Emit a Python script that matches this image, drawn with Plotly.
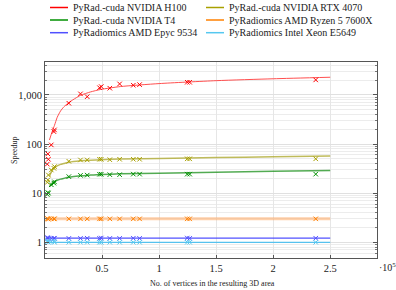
import plotly.graph_objects as go

# Shared mesh sizes (number of vertices)
vertices = [2000, 2500, 3000, 5500, 7800, 8300, 20900, 31100, 37000, 47800, 49300,
            56800, 65400, 77400, 82900, 124700, 126800, 237300]

h100 = [39, 63, 49, 96, 179, 194, 677, 1050, 920, 1400, 1475, 1370, 1675, 1575, 1620, 1810, 1810, 2020]
rtx4070 = [16.6, 18.6, 23.4, 29.6, 32, 34.7, 44.5, 47.4, 47.4, 49, 49, 48, 49, 49, 49, 50, 50, 50]
t4 = [9.4, 10.3, 10, 14.8, 16, 17, 21.7, 23, 23.3, 24.3, 24.3, 23.8, 23.8, 24.4, 24.4, 24.4, 24.4, 24.4]
ryzen = [3.05, 3.0, 2.95, 3.0, 3.0, 3.0, 3.0, 3.0, 3.0, 3.0, 3.0, 3.0, 3.0, 3.0, 3.0, 3.0, 3.0, 3.0]
epyc = [1.25, 1.2, 1.22, 1.2, 1.2, 1.21, 1.2, 1.2, 1.21, 1.2, 1.22, 1.2, 1.2, 1.21, 1.2, 1.22, 1.2, 1.21]
xeon = [1.03, 1.07, 1.0, 1.03, 1.05, 1.0, 1.0, 1.0, 1.0, 1.0, 1.0, 1.0, 1.0, 1.0, 1.0, 1.0, 1.0, 1.0]

# Fitted trend curves
fit_x = [3900, 6300, 8300, 10700, 13600, 16500, 20900, 31100, 39900, 48700, 66200,
         100000, 150000, 200000, 250000]
fit_h100 = [121, 180, 240, 350, 470, 570, 700, 980, 1150, 1290, 1480, 1700, 1950, 2130, 2290]
fit_rtx4070 = [22, 29, 33, 36, 38.5, 40, 42.5, 45.5, 47, 48, 49.5, 51, 53, 55, 57]
fit_t4 = [13.5, 16, 17.3, 18.3, 19.3, 20, 21, 22.5, 23.3, 24, 24.7, 25.5, 26.8, 28, 29]
flat_x = [500, 250000]
fit_ryzen = [3.0, 3.0]
fit_epyc = [1.21, 1.21]
fit_xeon = [1.0, 1.0]

x_tickvals = [50000, 100000, 150000, 200000, 250000]
x_ticktext = ["0.5", "1", "1.5", "2", "2.5"]
y_tickvals = [1, 10, 100, 1000]
y_ticktext = ["1", "10", "100", "1,000"]

FONT = "Liberation Serif"

series = [
    ("PyRad.-cuda NVIDIA H100", "#ff0000", "rgba(255,60,60,0.9)", 1.0, fit_x, fit_h100, h100),
    ("PyRad.-cuda NVIDIA RTX 4070", "#a8a000", "rgba(175,170,50,0.8)", 1.5, fit_x, fit_rtx4070, rtx4070),
    ("PyRad.-cuda NVIDIA T4", "#009000", "rgba(40,150,40,0.8)", 1.5, fit_x, fit_t4, t4),
    ("PyRadiomics AMD Ryzen 5 7600X", "#ff8000", "rgba(255,170,100,0.55)", 3.0, flat_x, fit_ryzen, ryzen),
    ("PyRadiomics AMD Epyc 9534", "#5050ff", "rgba(50,50,255,0.85)", 1.3, flat_x, fit_epyc, epyc),
    ("PyRadiomics Intel Xeon E5649", "#55c8f0", "rgba(70,190,240,0.9)", 1.3, flat_x, fit_xeon, xeon),
]

W, H = 396, 290
ML, MR, MT, MB = 45, 19, 62, 32
PW, PH = W - ML - MR, H - MT - MB


def px_to_paper(px, py):
    return (px - ML) / PW, (H - MB - py) / PH


fig = go.Figure()
for name, lcol, pcol, w, fx, fy, my in series:
    fig.add_trace(go.Scatter(x=fx, y=fy, mode="lines", line=dict(color=pcol, width=w, shape="spline", smoothing=0.6),
                             name=name, showlegend=False, hoverinfo="skip"))
    fig.add_trace(go.Scatter(x=vertices, y=my, mode="markers", showlegend=False, name=name,
                             marker=dict(symbol="x-thin", size=4.5, color=lcol, line=dict(width=1, color=lcol))))

# Legend (two columns, drawn as shapes + text in paper coordinates)
col_x = [50, 206]
row_y = [7.5, 20, 32.7]
for i, (name, lcol, *_rest) in enumerate(series):
    cx = col_x[i % 2]
    ry = row_y[i // 2]
    x0, y0 = px_to_paper(cx, ry)
    x1, _ = px_to_paper(cx + 18, ry)
    xt, _ = px_to_paper(cx + 21, ry)
    fig.add_shape(type="line", xref="paper", yref="paper", x0=x0, x1=x1, y0=y0, y1=y0,
                  line=dict(color=lcol, width=1.5))
    fig.add_annotation(x=xt, y=y0, xref="paper", yref="paper", xanchor="left", yanchor="middle",
                       text=name, showarrow=False, font=dict(size=10, family=FONT, color="#222"))

fig.update_layout(
    width=W, height=H,
    margin=dict(l=ML, r=MR, t=MT, b=MB, autoexpand=False),
    paper_bgcolor="white", plot_bgcolor="white",
    font=dict(family=FONT, size=10, color="#222"),
    showlegend=False,
)
fig.update_xaxes(range=[0, 291000], tickvals=x_tickvals, ticktext=x_ticktext, automargin=False,
                 showgrid=True, gridcolor="#e6e6e6", gridwidth=1, zeroline=False,
                 showline=True, linecolor="#555", linewidth=1, mirror=True,
                 ticks="inside", ticklen=3, tickcolor="#555",
                 tickfont=dict(size=10.5, family=FONT))
fig.update_yaxes(type="log", range=[-0.32, 3.67], tickvals=y_tickvals, ticktext=y_ticktext, automargin=False,
                 showgrid=True, gridcolor="#e0e0e0", gridwidth=1, zeroline=False,
                 showline=True, linecolor="#555", linewidth=1, mirror="ticks",
                 ticks="inside", ticklen=4, tickcolor="#555",
                 minor=dict(ticks="inside", ticklen=2, tickcolor="#777", showgrid=True, gridcolor="#ececec",
                            tickvals=[v * m for v in [0.1, 1, 10, 100, 1000] for m in range(2, 10)]),
                 tickfont=dict(size=10.5, family=FONT))

ax, ay = px_to_paper(212, 283)
fig.add_annotation(x=ax, y=ay, xref="paper", yref="paper", xanchor="center", yanchor="middle",
                   text="No. of vertices in the resulting 3D area", showarrow=False,
                   font=dict(size=8, family=FONT, color="#222"))
sx, sy = px_to_paper(14, 150)
fig.add_annotation(x=sx, y=sy, xref="paper", yref="paper", xanchor="center", yanchor="middle",
                   text="Speedup", textangle=-90, showarrow=False,
                   font=dict(size=8, family=FONT, color="#222"))
ex, ey = px_to_paper(377, 267)
fig.add_annotation(x=ex, y=ey, xref="paper", yref="paper", xanchor="left", yanchor="middle",
                   text="·10<sup>5</sup>", showarrow=False, font=dict(size=10, family=FONT, color="#222"))

fig.write_html("out.html", config={"displayModeBar": False, "staticPlot": True},
               post_script="document.body.style.margin='0';document.body.style.overflow='hidden';")
